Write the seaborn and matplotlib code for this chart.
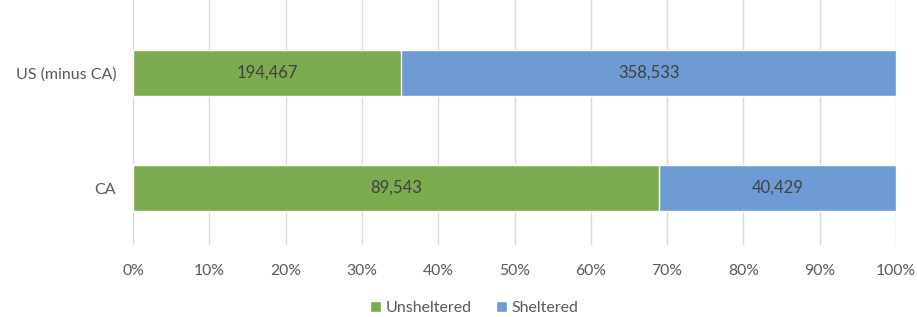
import matplotlib
matplotlib.use("Agg")
import matplotlib.pyplot as plt
import seaborn as sns
import pandas as pd
from matplotlib.patches import Patch

categories = ["US (minus CA)", "CA"]
unsheltered = [194467, 89543]
sheltered = [358533, 40429]
xticks = [0, 10, 20, 30, 40, 50, 60, 70, 80, 90, 100]

sns.set_theme(style="white")
plt.rcParams['font.family'] = ['Lato', 'DejaVu Sans']

totals = [u + s for u, s in zip(unsheltered, sheltered)]
df = pd.DataFrame({
    "cat": categories,
    "unsh_pct": [u / t * 100 for u, t in zip(unsheltered, totals)],
    "total_pct": [100.0 for _ in totals],
})

green = "#7DAB4F"
blue = "#6F9BD4"

fig = plt.figure(figsize=(9.17, 3.17), dpi=100)
ax = fig.add_axes([133/917, 1 - 245/317, (896-133)/917, 245/317])

sns.barplot(data=df, y="cat", x="total_pct", color=blue, width=0.4, ax=ax, orient="h", saturation=1)
sns.barplot(data=df, y="cat", x="unsh_pct", color=green, width=0.4, ax=ax, orient="h", saturation=1)

ax.set_xlim(0, 100)
ax.set_ylim(1.495, -0.635)
ax.set_xticks(xticks)
ax.set_xticklabels([f"{v}%" for v in xticks], fontsize=11.3, color="#595959")
ax.tick_params(axis="y", labelsize=11.5, labelcolor="#595959", length=0, pad=12)
ax.tick_params(axis="x", length=0, pad=14)
ax.set_xlabel("")
ax.set_ylabel("")
ax.grid(axis="x", color="#D9D9D9", linewidth=1)
ax.set_axisbelow(True)
for s in ax.spines.values():
    s.set_visible(False)

for i, (u, s, up) in enumerate(zip(unsheltered, sheltered, df["unsh_pct"])):
    ax.text(up / 2, i, f"{u:,}", ha="center", va="center", fontsize=12, color="#404040")
    ax.text(up + (100 - up) / 2, i, f"{s:,}", ha="center", va="center", fontsize=12, color="#404040")

handles = [Patch(facecolor=green, label="Unsheltered"), Patch(facecolor=blue, label="Sheltered")]
fig.legend(handles=handles, loc="center", bbox_to_anchor=(474/917, 1 - 308/317), ncol=2,
           frameon=False, fontsize=11.5, handlelength=0.7, handleheight=0.7,
           handletextpad=0.3, columnspacing=1.5, labelcolor="#595959")

fig.savefig("out.png", dpi=100)
